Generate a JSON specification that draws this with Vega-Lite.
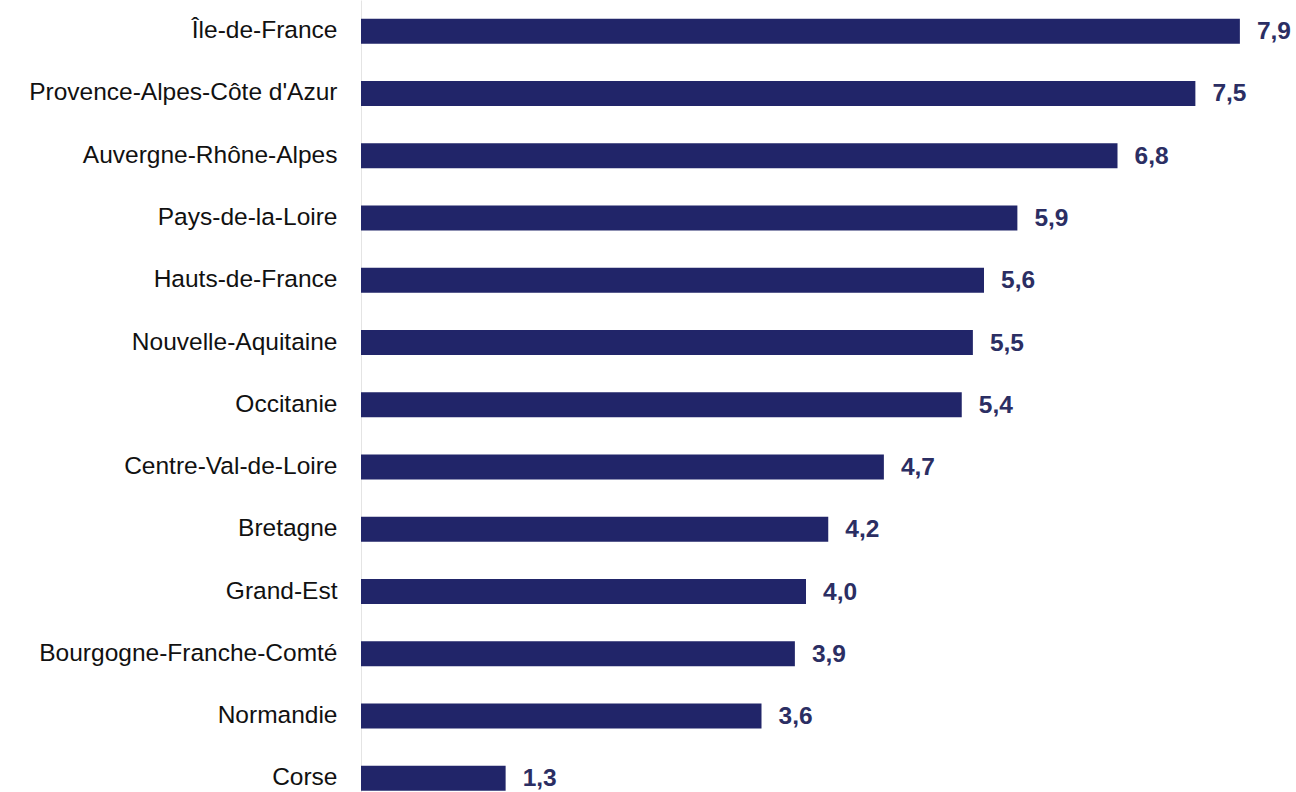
{
  "$schema": "https://vega.github.io/schema/vega-lite/v6.json",
  "autosize": "none",
  "padding": {"left": 361, "top": 0, "right": 45, "bottom": 0},
  "width": 890,
  "height": 792,
  "background": "white",
  "config": {
    "view": {"stroke": null},
    "locale": {"number": {"decimal": ",", "thousands": " ", "grouping": [3], "currency": ["", " €"]}}
  },
  "data": {
    "values": [
      {"region": "Île-de-France", "value": 7.9},
      {"region": "Provence-Alpes-Côte d'Azur", "value": 7.5},
      {"region": "Auvergne-Rhône-Alpes", "value": 6.8},
      {"region": "Pays-de-la-Loire", "value": 5.9},
      {"region": "Hauts-de-France", "value": 5.6},
      {"region": "Nouvelle-Aquitaine", "value": 5.5},
      {"region": "Occitanie", "value": 5.4},
      {"region": "Centre-Val-de-Loire", "value": 4.7},
      {"region": "Bretagne", "value": 4.2},
      {"region": "Grand-Est", "value": 4.0},
      {"region": "Bourgogne-Franche-Comté", "value": 3.9},
      {"region": "Normandie", "value": 3.6},
      {"region": "Corse", "value": 1.3}
    ]
  },
  "encoding": {
    "y": {
      "field": "region",
      "type": "nominal",
      "sort": {"field": "value", "order": "descending"},
      "scale": {"paddingInner": 0.598, "paddingOuter": 0.16, "align": 0.94},
      "axis": {
        "title": null,
        "ticks": false,
        "domain": true,
        "domainColor": "#e4e4e4",
        "domainWidth": 1,
        "labelFont": "Liberation Sans",
        "labelFontSize": 24.5,
        "labelColor": "#111111",
        "labelPadding": 24,
        "labelLimit": 400
      }
    },
    "x": {
      "field": "value",
      "type": "quantitative",
      "scale": {"domain": [0, 8], "nice": false, "zero": true},
      "axis": null
    }
  },
  "layer": [
    {
      "mark": {"type": "bar", "color": "#212569"}
    },
    {
      "mark": {
        "type": "text",
        "align": "left",
        "baseline": "middle",
        "dx": 17,
        "dy": 1,
        "font": "Liberation Sans",
        "fontSize": 24.5,
        "fontWeight": "bold",
        "color": "#2b2e63"
      },
      "encoding": {
        "text": {"field": "value", "type": "quantitative", "format": ".1f"}
      }
    }
  ]
}
